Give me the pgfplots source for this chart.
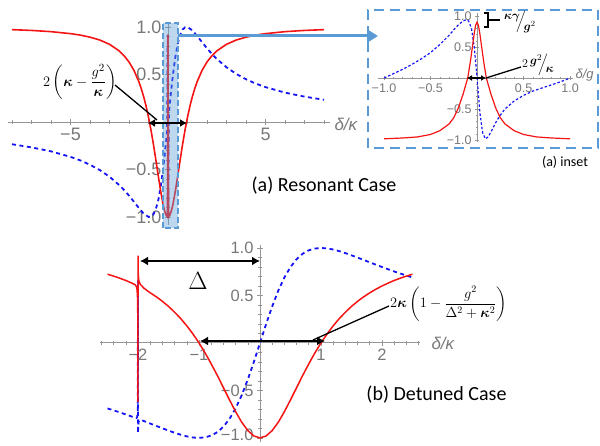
\documentclass[border=0pt]{standalone}
\usepackage[no-math]{fontspec}
\usepackage{amsmath}
\usepackage{pgfplots}
\pgfplotsset{compat=1.18}
\usetikzlibrary{arrows.meta}
\setmainfont{Carlito}
\newfontfamily\lbs{Liberation Sans}
\definecolor{oblue}{RGB}{91,155,213}
\definecolor{tgray}{RGB}{120,120,120}
\definecolor{agray}{RGB}{150,150,150}
\definecolor{pred}{RGB}{245,20,20}
\definecolor{pblue}{RGB}{20,20,245}
\pgfplotsset{mm/.style={axis lines=middle, axis line style={agray, line width=0.9pt, -},
  every inner x axis line/.append style={-}, every inner y axis line/.append style={-},
  scale only axis, anchor=south west, clip=true,
  major tick style={agray, line width=0.7pt}, minor tick style={agray, line width=0.6pt},
  major tick length=6pt, minor tick length=3.5pt,
  tick label style={text=tgray}}}
\begin{document}
\begin{tikzpicture}[x=1pt,y=1pt]
\path[use as bounding box] (0,0) rectangle (600,445);
% ---------- (b) detuned ----------
\begin{axis}[mm, at={(100.2pt,2.85pt)}, width=319.6pt, height=197pt,
  xmin=-2.62, xmax=2.62, ymin=-1.045, ymax=1.03,
  xtick={-2,-1,1,2}, xticklabels={−2,−1,1,2},
  minor xtick={-2.6,-2.4,-2.2,-1.8,-1.6,-1.4,-1.2,-0.8,-0.6,-0.4,-0.2,0.2,0.4,0.6,0.8,1.2,1.4,1.6,1.8,2.2,2.4,2.6},
  ytick={-1,-0.5,0.5,1}, yticklabels={\raisebox{7pt}{−1.0},−0.5,0.5,1.0},
  minor ytick={-0.9,-0.8,-0.7,-0.6,-0.4,-0.3,-0.2,-0.1,0.1,0.2,0.3,0.4,0.6,0.7,0.8,0.9},
  tick label style={font=\lbs\fontsize{16.5}{16.5}\selectfont}]
\addplot[pblue, line width=1.8pt, dash pattern=on 4pt off 3.5pt] coordinates {
(-2.5,-0.690)(-2.4,-0.710)(-2.3,-0.731)(-2.2,-0.753)(-2.1,-0.776)(-2.05,-0.787)(-2.025,-0.79)(-2.012,-0.78)(-2.006,-0.72)(-2.003,-0.4)(-2.0015,0.2)(-2.0008,0.66)(-2.0003,0.0)(-2.0,-0.95)(-1.997,-0.88)(-1.99,-0.83)(-1.97,-0.81)(-1.94,-0.812)(-1.9,-0.824)(-1.8,-0.849)(-1.7,-0.874)(-1.6,-0.899)(-1.5,-0.923)(-1.4,-0.946)(-1.3,-0.967)(-1.2,-0.984)(-1.1,-0.996)(-1.0,-1.0)(-0.9,-0.994)(-0.8,-0.976)(-0.7,-0.940)(-0.6,-0.882)(-0.5,-0.8)(-0.4,-0.690)(-0.3,-0.551)(-0.2,-0.385)(-0.1,-0.198)(0,0)(0.1,0.198)(0.2,0.385)(0.3,0.551)(0.4,0.690)(0.5,0.8)(0.6,0.882)(0.7,0.940)(0.8,0.976)(0.9,0.994)(1.0,1.0)(1.1,0.996)(1.2,0.984)(1.3,0.967)(1.4,0.946)(1.5,0.923)(1.6,0.899)(1.7,0.874)(1.8,0.849)(1.9,0.824)(2.0,0.8)(2.1,0.776)(2.2,0.753)(2.3,0.731)(2.4,0.710)(2.5,0.690)};
\addplot[pred, line width=1.5pt] coordinates {
(-2.5,0.724)(-2.4,0.704)(-2.3,0.682)(-2.2,0.658)(-2.1,0.630)(-2.06,0.617)(-2.04,0.608)(-2.025,0.59)(-2.015,0.56)(-2.008,0.48)(-2.004,0.3)(-2.002,0.0)(-2.001,-0.62)(-2.0,0.92)(-1.997,0.74)(-1.99,0.67)(-1.98,0.64)(-1.96,0.615)(-1.93,0.595)(-1.9,0.575)(-1.8,0.528)(-1.7,0.486)(-1.6,0.438)(-1.5,0.385)(-1.4,0.324)(-1.3,0.257)(-1.2,0.180)(-1.1,0.095)(-1.0,0.0)(-0.9,-0.105)(-0.8,-0.220)(-0.7,-0.342)(-0.6,-0.471)(-0.5,-0.6)(-0.4,-0.724)(-0.3,-0.835)(-0.2,-0.923)(-0.1,-0.980)(0,-1)(0.1,-0.980)(0.2,-0.923)(0.3,-0.835)(0.4,-0.724)(0.5,-0.6)(0.6,-0.471)(0.7,-0.342)(0.8,-0.220)(0.9,-0.105)(1.0,0.0)(1.1,0.095)(1.2,0.180)(1.3,0.257)(1.4,0.324)(1.5,0.385)(1.6,0.438)(1.7,0.486)(1.8,0.528)(1.9,0.566)(2.0,0.6)(2.1,0.630)(2.2,0.658)(2.3,0.682)(2.4,0.704)(2.5,0.724)};
\end{axis}
% ---------- (a) resonant ----------
\begin{axis}[mm, at={(8.1pt,220.4pt)}, width=321.75pt, height=202.35pt,
  xmin=-8.2, xmax=8.3, ymin=-1.08, ymax=1.05,
  xtick={-5,5}, xticklabels={−5,5},
  minor xtick={-8,-7,-6,-4,-3,-2,-1,1,2,3,4,6,7,8},
  ytick={-1,-0.5,0.5,1}, yticklabels={−1.0,−0.5,0.5,1.0},
  minor ytick={-0.9,-0.8,-0.7,-0.6,-0.4,-0.3,-0.2,-0.1,0.1,0.2,0.3,0.4,0.6,0.7,0.8,0.9},
  tick label style={font=\lbs\fontsize{18}{18}\selectfont}]
\addplot[pblue, line width=1.8pt, dash pattern=on 4pt off 3.5pt] coordinates {
(-8,-0.234)(-7,-0.267)(-6,-0.309)(-5,-0.367)(-4.5,-0.404)(-4,-0.450)(-3.5,-0.506)(-3,-0.576)(-2.5,-0.664)(-2.25,-0.717)(-2,-0.775)(-1.75,-0.839)(-1.5,-0.904)(-1.25,-0.964)(-1,-0.999)(-0.875,-0.997)(-0.75,-0.973)(-0.625,-0.918)(-0.5,-0.824)(-0.375,-0.683)(-0.25,-0.492)(-0.175,-0.356)(-0.1,-0.208)(-0.05,-0.105)(-0.03,0.3)(-0.015,0.92)(0,0)(0.01,-0.97)(0.025,-0.3)(0.05,0.105)(0.1,0.208)(0.175,0.356)(0.25,0.492)(0.375,0.683)(0.5,0.824)(0.625,0.918)(0.75,0.973)(0.875,0.997)(1,0.999)(1.25,0.964)(1.5,0.904)(1.75,0.839)(2,0.775)(2.25,0.717)(2.5,0.664)(3,0.576)(3.5,0.506)(4,0.450)(4.5,0.404)(5,0.367)(6,0.309)(7,0.267)(8,0.234)};
\addplot[pred, line width=1.6pt] coordinates {
(-8,0.972)(-7,0.964)(-6,0.951)(-5,0.930)(-4.5,0.915)(-4,0.893)(-3.5,0.863)(-3,0.818)(-2.5,0.748)(-2.25,0.697)(-2,0.632)(-1.75,0.545)(-1.5,0.427)(-1.375,0.354)(-1.25,0.268)(-1.125,0.168)(-1,0.051)(-0.875,-0.082)(-0.75,-0.232)(-0.625,-0.396)(-0.5,-0.566)(-0.375,-0.730)(-0.25,-0.871)(-0.175,-0.934)(-0.1,-0.978)(-0.03,-0.998)(-0.012,-0.3)(-0.005,0.5)(0,0.92)(0.005,0.5)(0.012,-0.3)(0.03,-0.998)(0.1,-0.978)(0.175,-0.934)(0.25,-0.871)(0.375,-0.730)(0.5,-0.566)(0.625,-0.396)(0.75,-0.232)(0.875,-0.082)(1,0.051)(1.125,0.168)(1.25,0.268)(1.375,0.354)(1.5,0.427)(1.75,0.545)(2,0.632)(2.25,0.697)(2.5,0.748)(3,0.818)(3.5,0.863)(4,0.893)(4.5,0.915)(5,0.930)(6,0.951)(7,0.964)(8,0.972)};
\end{axis}
% ---------- (a) inset ----------
\begin{axis}[mm, at={(378pt,303.1pt)}, width=194.8pt, height=128.96pt,
  xmin=-1.065, xmax=1.03, ymin=-1.03, ymax=1.05,
  major tick length=4pt, minor tick length=2.5pt,
  xtick={-1,-0.5,0.5,1}, xticklabels={−1.0,−0.5,0.5,1.0},
  minor xtick={-0.9,-0.8,-0.7,-0.6,-0.4,-0.3,-0.2,-0.1,0.1,0.2,0.3,0.4,0.6,0.7,0.8,0.9},
  ytick={-1,-0.5,0.5,1}, yticklabels={−1.0,−0.5,0.5,1.0},
  minor ytick={-0.9,-0.8,-0.7,-0.6,-0.4,-0.3,-0.2,-0.1,0.1,0.2,0.3,0.4,0.6,0.7,0.8,0.9},
  tick label style={font=\lbs\fontsize{12.5}{12.5}\selectfont}]
\addplot[pblue, line width=1.2pt, dash pattern=on 2.5pt off 2pt] coordinates {
(-1.0,0.0)(-0.9,0.07)(-0.8,0.14)(-0.7,0.22)(-0.6,0.31)(-0.5,0.41)(-0.4,0.54)(-0.3,0.69)(-0.22,0.83)(-0.16,0.91)(-0.12,0.94)(-0.09,0.92)(-0.06,0.8)(-0.03,0.5)(0,0.02)(0.03,-0.55)(0.06,-0.88)(0.09,-0.98)(0.12,-0.95)(0.16,-0.84)(0.2,-0.72)(0.25,-0.6)(0.3,-0.5)(0.4,-0.37)(0.5,-0.28)(0.6,-0.21)(0.7,-0.16)(0.8,-0.11)(0.9,-0.06)(1.0,0.0)};
\addplot[pred, line width=1.2pt] coordinates {
(-1,-0.98)(-0.8,-0.967)(-0.64,-0.95)(-0.5,-0.91)(-0.4,-0.85)(-0.3,-0.74)(-0.25,-0.64)(-0.2,-0.48)(-0.15,-0.26)(-0.1,0.0)(-0.07,0.28)(-0.05,0.5)(-0.03,0.72)(-0.015,0.85)(0,0.9)(0.015,0.85)(0.03,0.72)(0.05,0.5)(0.07,0.28)(0.1,0.0)(0.15,-0.26)(0.2,-0.48)(0.25,-0.64)(0.3,-0.74)(0.4,-0.85)(0.5,-0.91)(0.64,-0.95)(0.8,-0.967)(1,-0.98)};
\end{axis}
% axis names
\node[anchor=west, text=tgray, font=\lbs\itshape\fontsize{17}{17}\selectfont] at (331,321) {δ/κ};
\node[anchor=west, text=tgray, font=\lbs\itshape\fontsize{13}{13}\selectfont] at (572,370) {δ/g};
\node[anchor=west, text=tgray, font=\lbs\itshape\fontsize{17}{17}\selectfont] at (428,102) {δ/κ};
% highlight + arrow
\draw[oblue, line width=1.5pt, dash pattern=on 6pt off 3pt, fill=oblue, fill opacity=0.4] (163,217) rectangle (178,422);
\draw[oblue, line width=3pt, -{Triangle[length=11pt,width=13pt]}] (178,409) -- (378,409);
% inset box
\draw[oblue, line width=2.5pt, dash pattern=on 10pt off 6pt] (368,297) rectangle (598,435);
% captions
\node[font=\fontsize{20}{20}\selectfont] at (324,259) {(a) Resonant Case};
\node[font=\fontsize{20}{20}\selectfont] at (436.5,50) {(b) Detuned Case};
\node[font=\fontsize{14}{14}\selectfont] at (565,283) {(a) inset};
% (a) annotations
\node[font=\fontsize{15}{15}\selectfont] at (80,363) {$2\left(\boldsymbol{\kappa}-\dfrac{g^2}{\boldsymbol{\kappa}}\right)$};
\draw[line width=1.3pt] (115,360) -- (157,325);
\draw[line width=2.5pt, {Latex[length=7pt,width=8pt]}-{Latex[length=7pt,width=8pt]}] (148,322) -- (187,322);
% inset annotations
\draw[line width=2pt, {Latex[length=5pt,width=6pt]}-{Latex[length=5pt,width=6pt]}] (467,367) -- (486,367);
\draw[line width=1.3pt] (486,367) -- (521,378);
\node[anchor=west, inner sep=0pt] at (522,380) {\fontsize{13}{13}\selectfont $2\,\raisebox{3pt}{$\boldsymbol{g}^2$}\!\!\Big/\!\raisebox{-5pt}{$\boldsymbol{\kappa}$}$};
\draw[line width=1.2pt] (484,432) -- (488,432) -- (488,418) -- (484,418);
\draw[line width=1.2pt] (488,425) -- (500,425);
\node[anchor=west, inner sep=0pt] at (504,423) {\fontsize{12}{12}\selectfont $\raisebox{5pt}{$\boldsymbol{\kappa\gamma}$}\!\!\Big/\!\raisebox{-6pt}{$\boldsymbol{g}^2$}$};
% (b) annotations
\draw[line width=2.5pt, {Latex[length=8pt,width=9pt]}-{Latex[length=8pt,width=9pt]}] (140,184) -- (260,184);
\node[font=\fontsize{26}{26}\selectfont] at (198,164) {$\Delta$};
\draw[line width=2.5pt, {Latex[length=8pt,width=9pt]}-{Latex[length=8pt,width=9pt]}] (200,104) -- (325,104);
\draw[line width=1.3pt] (313,105) -- (389,139);
\node[anchor=west, inner sep=0pt] at (390,141) {\fontsize{14}{14}\selectfont $2\boldsymbol{\kappa}\left(1-\dfrac{g^2}{\Delta^2+\boldsymbol{\kappa}^2}\right)$};
\end{tikzpicture}
\end{document}
